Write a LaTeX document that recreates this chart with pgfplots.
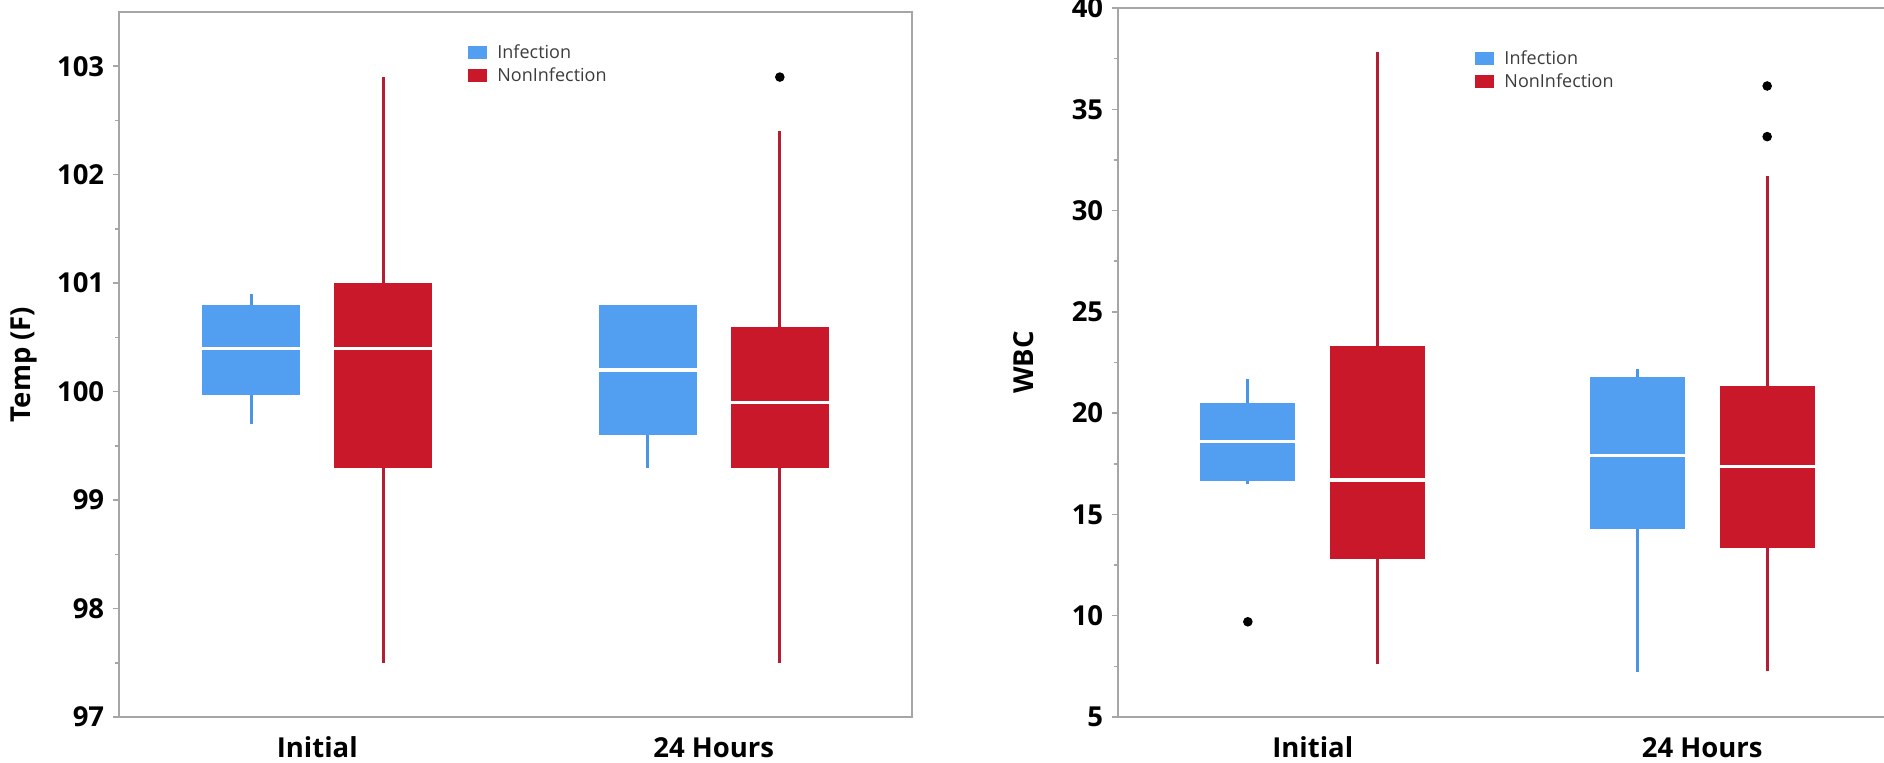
\documentclass[border=0pt]{standalone}
\usepackage{fontspec}
\setmainfont{Open Sans}
\usepackage{pgfplots}
\pgfplotsset{compat=1.18}
\definecolor{infbox}{RGB}{82,158,240}
\definecolor{nonbox}{RGB}{200,24,42}
\definecolor{infwhisk}{RGB}{74,150,228}
\definecolor{nonwhisk}{RGB}{178,30,52}
\definecolor{axisgray}{RGB}{166,166,166}
\definecolor{legtext}{RGB}{60,60,60}
\pgfplotsset{
  jmp/.style={
    scale only axis, anchor=south west,
    xmin=0,
    xtick={1.5,4.5}, xticklabels={Initial,24 Hours},
    x tick style={draw=none},
    tick align=outside,
    ytick pos=left,
    minor y tick num=1,
    major tick length=2.4pt, minor tick length=1.6pt,
    y tick style={axisgray, line width=0.6pt},
    axis line style={axisgray, line width=0.8pt},
    /pgf/number format/assume math mode=true,
    tick label style={font=\bfseries\fontsize{11}{13}\selectfont, black},
    y label style={font=\bfseries\fontsize{11}{13}\selectfont},
    x tick label style={anchor=base, inner sep=0pt, yshift=-13.6pt},
    legend image code/.code={\path[#1] (0pt,-2.9pt) rectangle (7.6pt,2.3pt);
      \path[draw=none, fill=none] (0pt,-2.9pt) rectangle (11.6pt,2.3pt);},
    legend style={draw=none, fill=none, inner sep=0pt, row sep=0pt, anchor=north west,
      font=\fontsize{7.2}{8.6}\selectfont, text=legtext,
      nodes={inner sep=0pt, text height=7.2pt, text depth=2pt}},
    legend cell align=left,
  },
}
% #1 group (inf/non), #2 left edge, #3 centre, #4 right edge,
% #5 lower whisker, #6 lower quartile, #7 median, #8 upper quartile, #9 upper whisker
\newcommand\jmpbox[9]{%
  \addplot[#1whisk, line width=1.2pt, forget plot] coordinates {(#3,#5) (#3,#9)};
  \addplot[fill=#1box, draw=none, forget plot] coordinates {(#2,#6) (#4,#6) (#4,#8) (#2,#8)};
  \addplot[white, line width=1.3pt, forget plot] coordinates {(#2,#7) (#4,#7)};
}
\begin{document}
\begin{tikzpicture}
\useasboundingbox (0,0) rectangle (753.6pt,304.8pt);
% ---------------- Left: Temp ----------------
\begin{axis}[jmp, at={(47.6pt,18pt)}, width=317.2pt, height=282pt,
  xmax=6, ymin=97, ymax=103.5, ytick={97,98,...,103},
  ylabel={Temp (F)}, ylabel style={at={(axis description cs:-0.1198,0.5)}, anchor=center},
  legend style={at={(axis description cs:0.440,0.960)}}]
\addlegendimage{fill=infbox, draw=none}\addlegendentry{Infection}
\addlegendimage{fill=nonbox, draw=none}\addlegendentry{NonInfection}
\jmpbox{inf}{0.63}{1}{1.37}{99.7}{99.97}{100.4}{100.8}{100.9}
\jmpbox{non}{1.63}{2}{2.37}{97.5}{99.3}{100.4}{101.0}{102.9}
\jmpbox{inf}{3.63}{4}{4.37}{99.3}{99.6}{100.2}{100.8}{100.8}
\jmpbox{non}{4.63}{5}{5.37}{97.5}{99.3}{99.9}{100.6}{102.4}
\addplot[only marks, mark=*, mark size=1.7pt, black, forget plot] coordinates {(5,102.9)};
\end{axis}
% ---------------- Right: WBC ----------------
\begin{axis}[jmp, at={(447.2pt,18pt)}, width=306.4pt, height=283.6pt,
  xmax=5.9, ymin=5, ymax=40, ytick={5,10,...,40},
  axis x line*=box, axis y line*=left,
  every outer x axis line/.append style={-}, every outer y axis line/.append style={-},
  every inner x axis line/.append style={-}, every inner y axis line/.append style={-},
  ylabel={WBC}, ylabel style={at={(axis description cs:-0.1227,0.5)}, anchor=center},
  legend style={at={(axis description cs:0.466,0.947)}}]
\addlegendimage{fill=infbox, draw=none}\addlegendentry{Infection}
\addlegendimage{fill=nonbox, draw=none}\addlegendentry{NonInfection}
\jmpbox{inf}{0.635}{1}{1.365}{16.5}{16.66}{18.6}{20.5}{21.7}
\jmpbox{non}{1.635}{2}{2.365}{7.6}{12.8}{16.7}{23.3}{37.85}
\jmpbox{inf}{3.635}{4}{4.365}{7.2}{14.3}{17.9}{21.8}{22.2}
\jmpbox{non}{4.635}{5}{5.365}{7.25}{13.35}{17.35}{21.35}{31.7}
\addplot[only marks, mark=*, mark size=1.7pt, black, forget plot] coordinates {(1,9.7) (5,36.15) (5,33.65)};
\end{axis}
\end{tikzpicture}
\end{document}
